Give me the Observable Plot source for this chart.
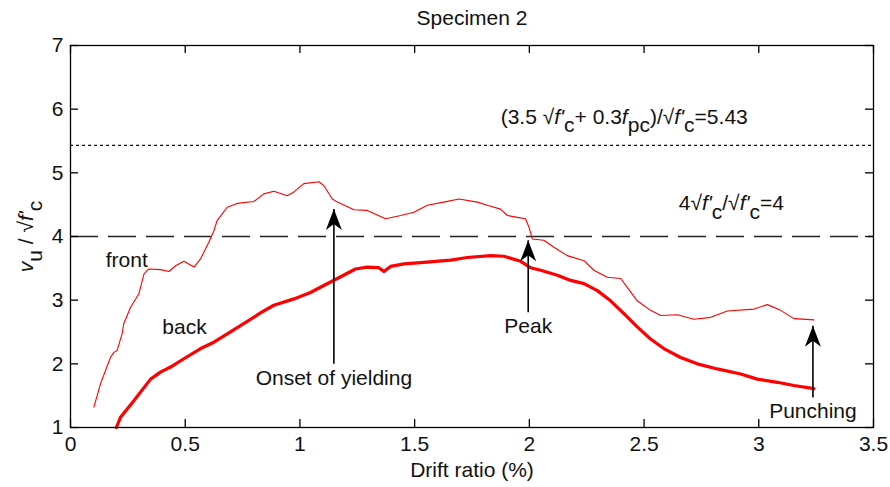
<!DOCTYPE html>
<html>
<head>
<meta charset="utf-8">
<script src="https://cdn.jsdelivr.net/npm/d3@7"></script>
<script src="https://cdn.jsdelivr.net/npm/@observablehq/plot@0.6"></script>
<style>
  html, body { margin: 0; padding: 0; background: #fff; }
  #chart { width: 890px; height: 487px; }
</style>
</head>
<body>
<div id="chart"></div>
<script>
// ---- data ----
const title = "Specimen 2";
const xLabel = "Drift ratio (%)";
const xTicks = [0, 0.5, 1, 1.5, 2, 2.5, 3, 3.5];
const yTicks = [1, 2, 3, 4, 5, 6, 7];

const frontX = [0.102,0.131,0.174,0.189,0.203,0.225,0.232,0.262,0.298,0.320,0.341,0.392,0.429,0.458,0.494,0.538,0.567,0.603,0.625,0.639,0.683,0.727,0.799,0.843,0.886,0.945,0.974,1.017,1.083,1.104,1.141,1.163,1.235,1.293,1.373,1.439,1.497,1.555,1.627,1.693,1.773,1.816,1.874,1.904,1.947,1.983,1.998,2.013,2.063,2.107,2.165,2.238,2.281,2.339,2.398,2.441,2.470,2.528,2.572,2.645,2.717,2.790,2.863,2.979,3.037,3.095,3.153,3.240];
const frontY = [1.32,1.69,2.10,2.18,2.21,2.47,2.63,2.89,3.10,3.41,3.49,3.48,3.45,3.54,3.61,3.52,3.65,3.91,4.09,4.25,4.46,4.52,4.55,4.67,4.71,4.64,4.70,4.83,4.86,4.80,4.59,4.54,4.42,4.41,4.28,4.33,4.38,4.49,4.54,4.59,4.54,4.49,4.43,4.33,4.30,4.28,4.15,3.96,3.94,3.83,3.70,3.62,3.47,3.36,3.34,3.13,2.99,2.84,2.76,2.77,2.70,2.73,2.83,2.86,2.93,2.84,2.71,2.69];

const backX = [0.200,0.218,0.276,0.349,0.392,0.436,0.494,0.567,0.625,0.683,0.755,0.828,0.886,0.974,1.046,1.104,1.163,1.242,1.293,1.344,1.366,1.395,1.453,1.526,1.657,1.729,1.831,1.889,1.962,2.005,2.049,2.122,2.180,2.238,2.296,2.354,2.412,2.470,2.528,2.586,2.659,2.732,2.819,2.921,2.993,3.081,3.153,3.240];
const backY = [1.00,1.16,1.42,1.76,1.87,1.95,2.08,2.24,2.34,2.47,2.63,2.80,2.92,3.02,3.12,3.23,3.34,3.49,3.52,3.51,3.45,3.53,3.57,3.59,3.63,3.67,3.70,3.69,3.61,3.51,3.47,3.39,3.31,3.26,3.15,2.99,2.79,2.58,2.39,2.24,2.10,2.00,1.92,1.84,1.76,1.71,1.66,1.61];

const dashedLevel = [4];
const dottedLevel = [5.43];

const arrowLabels = ["Onset of yielding", "Peak", "Punching"];
const arrowX = [1.148, 1.995, 3.236];
const arrowTip = [4.43, 3.94, 2.60];
const arrowTail = [2.00, 2.81, 1.47];

const curveNames = ["front", "back"];
const curveNameX = [0.245, 0.497];
const curveNameY = [3.62, 2.58];

// rich-text labels: [text, style] parts
const formula1 = [["(3.5 \u221A",""],["f'","i"],["c","sub"],["+ 0.3",""],["f","i"],["pc","sub"],[")/\u221A",""],["f'","i"],["c","sub"],["=5.43",""]];
const formula1Pos = [1.875, 5.877];
const formula2 = [["4\u221A",""],["f'","i"],["c","sub"],["/\u221A",""],["f'","i"],["c","sub"],["=4",""]];
const formula2Pos = [2.651, 4.52];
const yLabelParts = [["v","i"],["u","sub"],[" / \u221A",""],["f'","i"],["c","sub"]];

// ---- build ----
const W = 890, H = 487, mL = 70, mR = 17, mT = 45, mB = 60;
const frameW = W - mL - mR, frameH = H - mT - mB, tickLen = 8;
const FS = 21;

const front = frontX.map((x, i) => ({x, y: frontY[i]}));
const back = backX.map((x, i) => ({x, y: backY[i]}));
const arrows = arrowLabels.map((label, i) => ({label, x: arrowX[i], tip: arrowTip[i], tail: arrowTail[i]}));
const curveText = curveNames.map((t, i) => ({t, x: curveNameX[i], y: curveNameY[i]}));
const plain = parts => parts.map(p => p[0]).join("");

const arrowHead = {
  draw(ctx) {
    ctx.moveTo(0, 0);
    ctx.lineTo(8, 21);
    ctx.lineTo(0, 15);
    ctx.lineTo(-8, 21);
    ctx.closePath();
  }
};

const font = "'Liberation Sans', Arial, Helvetica, sans-serif";

const plot = Plot.plot({
  width: W, height: H,
  marginLeft: mL, marginRight: mR, marginTop: mT, marginBottom: mB,
  x: {domain: [0, 3.5]},
  y: {domain: [1, 7]},
  style: {fontFamily: font, fontSize: FS + "px", color: "#111", background: "#fff"},
  marks: [
    Plot.ruleY(dottedLevel, {stroke: "#111", strokeWidth: 1.3, strokeDasharray: "3,3"}),
    Plot.ruleY(dashedLevel, {stroke: "#222", strokeWidth: 1.6, strokeDasharray: "28,10"}),
    Plot.line(front, {x: "x", y: "y", stroke: "#ff0000", strokeWidth: 1.1}),
    Plot.line(back, {x: "x", y: "y", stroke: "#ff0000", strokeWidth: 3.2}),
    Plot.link(arrows, {x1: "x", x2: "x", y1: "tail", y2: "tip", stroke: "#000", strokeWidth: 1.6}),
    Plot.dot(arrows, {x: "x", y: "tip", symbol: arrowHead, fill: "#000", stroke: "none", r: 10}),
    Plot.text(arrows, {x: "x", y: "tail", text: "label", dy: 14, fontSize: FS, fill: "#111"}),
    Plot.text(curveText, {x: "x", y: "y", text: "t", fontSize: FS, fill: "#111"}),
    Plot.text([plain(formula1)], {x: formula1Pos[0], y: formula1Pos[1], textAnchor: "start", fontSize: FS, fill: "#111"}),
    Plot.text([plain(formula2)], {x: formula2Pos[0], y: formula2Pos[1], textAnchor: "start", fontSize: FS, fill: "#111"}),
    Plot.text([plain(yLabelParts)], {frameAnchor: "left", textAnchor: "middle", lineAnchor: "middle", dx: -44, rotate: -90, fontSize: FS, fill: "#111"}),
    Plot.text([title], {frameAnchor: "top", lineAnchor: "middle", dy: -27, fontSize: FS, fill: "#111"}),
    Plot.text([xLabel], {frameAnchor: "bottom", lineAnchor: "middle", dy: 43, fontSize: FS, fill: "#111"}),
    // inward ticks on all four sides
    Plot.ruleX(xTicks, {insetTop: frameH - tickLen, stroke: "#000", strokeWidth: 1.3}),
    Plot.ruleX(xTicks, {insetBottom: frameH - tickLen, stroke: "#000", strokeWidth: 1.3}),
    Plot.ruleY(yTicks, {insetRight: frameW - tickLen, stroke: "#000", strokeWidth: 1.3}),
    Plot.ruleY(yTicks, {insetLeft: frameW - tickLen, stroke: "#000", strokeWidth: 1.3}),
    Plot.axisX({ticks: xTicks, tickSize: 0, tickPadding: 9, tickFormat: d => String(d), label: null, fontSize: FS, fill: "#111"}),
    Plot.axisY({ticks: yTicks, tickSize: 0, tickPadding: 7, tickFormat: d => String(d), label: null, fontSize: FS, fill: "#111"}),
    Plot.frame({stroke: "#000", strokeWidth: 1.3})
  ]
});

// turn plain strings into rich text (italic f, subscripts)
function enrich(parts) {
  const s = plain(parts);
  d3.select(plot).selectAll("text").filter(function() { return this.textContent === s; }).each(function() {
    const t = d3.select(this);
    t.text(null);
    let shifted = false;
    for (const [str, sty] of parts) {
      const sp = t.append("tspan").text(str);
      if (sty === "i") sp.attr("font-style", "italic");
      if (sty === "sub" && !shifted) { sp.attr("dy", "0.4em"); shifted = true; }
      else if (sty !== "sub" && shifted) { sp.attr("dy", "-0.4em"); shifted = false; }
    }
  });
}
enrich(formula1);
enrich(formula2);
enrich(yLabelParts);

document.getElementById("chart").appendChild(plot);
</script>
</body>
</html>
